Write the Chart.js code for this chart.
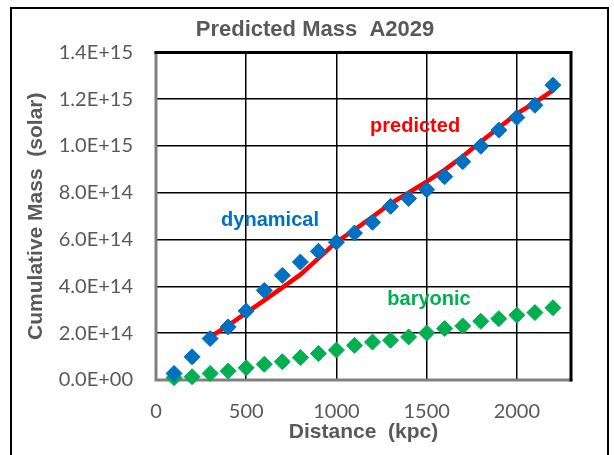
<!DOCTYPE html>
<html>
<head>
<meta charset="utf-8">
<script src="https://cdn.jsdelivr.net/npm/chart.js@4.4.1/dist/chart.umd.min.js"></script>
<style>
  html, body { margin: 0; padding: 0; background: #fff; }
</style>
</head>
<body>
<canvas id="chart" width="614" height="455"></canvas>
<script>
// distance (kpc) of the measured points
const distance = [100, 200, 300, 400, 500, 600, 700, 800, 900, 1000, 1100,
  1200, 1300, 1400, 1500, 1600, 1700, 1800, 1900, 2000, 2100, 2200];
// cumulative mass (solar)
const dynamical = [0.28e14, 0.99e14, 1.77e14, 2.27e14, 2.95e14, 3.83e14, 4.47e14, 5.04e14,
  5.50e14, 5.89e14, 6.28e14, 6.74e14, 7.42e14, 7.76e14, 8.13e14, 8.69e14, 9.33e14,
  9.99e14, 10.68e14, 11.22e14, 11.74e14, 12.60e14];
const baryonic = [0.10e14, 0.14e14, 0.28e14, 0.38e14, 0.52e14, 0.67e14, 0.78e14, 0.96e14,
  1.13e14, 1.28e14, 1.48e14, 1.62e14, 1.70e14, 1.84e14, 2.01e14, 2.20e14, 2.31e14,
  2.51e14, 2.62e14, 2.77e14, 2.88e14, 3.09e14];
// predicted curve
const predictedDistance = [300, 400, 500, 600, 700, 800, 900, 1000, 1100, 1200, 1300,
  1400, 1500, 1600, 1700, 1800, 1900, 2000, 2100, 2200];
const predicted = [1.83e14, 2.33e14, 2.87e14, 3.40e14, 3.95e14, 4.50e14, 5.20e14, 5.90e14,
  6.42e14, 6.97e14, 7.54e14, 8.00e14, 8.48e14, 8.98e14, 9.55e14, 10.18e14, 10.78e14,
  11.38e14, 11.85e14, 12.38e14];
// axis ticks
const xTickValues = [0, 500, 1000, 1500, 2000];
const yTickValues = [0, 2e14, 4e14, 6e14, 8e14, 10e14, 12e14, 14e14];

const GREY = '#595959';
const BLUE = '#0070C0';
const GREEN = '#00B050';
const RED = '#FF0000';

const toPoints = (xs, ys) => xs.map((x, i) => ({ x: x, y: ys[i] }));

const sciLabel = (v) => {
  if (v === 0) return '0.0E+00';
  const [m, e] = v.toExponential(1).split('e');
  const n = parseInt(e, 10);
  return m + 'E' + (n < 0 ? '-' : '+') + String(Math.abs(n)).padStart(2, '0');
};

// frame around the plot + outer chart border
const framePlugin = {
  id: 'frame',
  beforeDraw(chart) {
    const ctx = chart.ctx;
    ctx.save();
    ctx.fillStyle = '#fff';
    ctx.fillRect(0, 0, chart.width, chart.height);
    ctx.restore();
  },
  beforeDatasetsDraw(chart) {
    const { ctx, chartArea: a } = chart;
    ctx.save();
    ctx.lineCap = 'square';
    ctx.strokeStyle = '#808080';
    ctx.lineWidth = 3;
    ctx.beginPath();
    ctx.moveTo(a.left, a.top);
    ctx.lineTo(a.left, a.bottom);
    ctx.lineTo(a.right, a.bottom);
    ctx.stroke();
    ctx.strokeStyle = '#000';
    ctx.beginPath();
    ctx.moveTo(a.left, a.top);
    ctx.lineTo(a.right, a.top);
    ctx.lineTo(a.right, a.bottom);
    ctx.stroke();
    ctx.restore();
  },
  afterDraw(chart) {
    const ctx = chart.ctx;
    ctx.save();
    ctx.strokeStyle = '#000';
    ctx.lineWidth = 2;
    ctx.strokeRect(11, 8, 597, 460);
    ctx.restore();
  }
};

// in-plot series names
const seriesLabels = [
  { text: 'predicted', x: 1436, y: 10.84e14, color: RED },
  { text: 'dynamical', x: 632, y: 6.83e14, color: BLUE },
  { text: 'baryonic', x: 1513, y: 3.46e14, color: GREEN }
];
const labelPlugin = {
  id: 'seriesLabels',
  afterDatasetsDraw(chart) {
    const { ctx, scales } = chart;
    ctx.save();
    ctx.font = 'bold 20px "Liberation Sans", Arial, sans-serif';
    ctx.textAlign = 'center';
    ctx.textBaseline = 'middle';
    seriesLabels.forEach(l => {
      ctx.fillStyle = l.color;
      ctx.fillText(l.text, scales.x.getPixelForValue(l.x), scales.y.getPixelForValue(l.y));
    });
    ctx.restore();
  }
};

new Chart(document.getElementById('chart'), {
  type: 'scatter',
  data: {
    datasets: [
      {
        label: 'dynamical',
        data: toPoints(distance, dynamical),
        pointStyle: 'rectRot',
        pointRadius: 8,
        borderWidth: 1,
        backgroundColor: BLUE,
        borderColor: BLUE,
        clip: false,
        order: 0
      },
      {
        label: 'baryonic',
        data: toPoints(distance, baryonic),
        pointStyle: 'rectRot',
        pointRadius: 8,
        borderWidth: 1,
        backgroundColor: GREEN,
        borderColor: GREEN,
        clip: false,
        order: 1
      },
      {
        label: 'predicted',
        data: toPoints(predictedDistance, predicted),
        showLine: true,
        pointRadius: 0,
        borderColor: RED,
        borderWidth: 4.5,
        tension: 0,
        order: 2
      }
    ]
  },
  options: {
    responsive: false,
    animation: false,
    layout: { padding: { left: 16, right: 0, top: 0, bottom: 0 } },
    plugins: {
      legend: { display: false },
      tooltip: { enabled: false },
      title: {
        display: true,
        text: 'Predicted Mass  A2029',
        color: GREY,
        font: { family: '"Liberation Sans", Arial, sans-serif', size: 22, weight: 'bold' },
        padding: { top: 17, bottom: 9 }
      }
    },
    scales: {
      x: {
        type: 'linear',
        min: 0,
        max: 2300,
        border: { display: false },
        grid: { color: '#000', lineWidth: 1.5, drawTicks: false },
        ticks: {
          padding: 20,
          color: GREY,
          font: { family: 'Lato, "Open Sans", sans-serif', size: 20 },
          callback: (v) => String(v)
        },
        afterBuildTicks: (s) => { s.ticks = xTickValues.map(v => ({ value: v })); },
        title: {
          display: true,
          text: 'Distance  (kpc)',
          color: GREY,
          font: { family: '"Liberation Sans", Arial, sans-serif', size: 21, weight: 'bold' },
          padding: { top: 0, bottom: 10 }
        },
        afterFit: (s) => { s.height = 75; }
      },
      y: {
        min: 0,
        max: 1.4e15,
        border: { display: false },
        grid: { color: '#000', lineWidth: 1.5, drawTicks: false },
        ticks: {
          padding: 23,
          color: GREY,
          font: { family: 'Lato, "Open Sans", sans-serif', size: 20 },
          callback: (v) => sciLabel(v)
        },
        afterBuildTicks: (s) => { s.ticks = yTickValues.map(v => ({ value: v })); },
        title: {
          display: true,
          text: 'Cumulative Mass  (solar)',
          color: GREY,
          font: { family: '"Liberation Sans", Arial, sans-serif', size: 21, weight: 'bold' },
          padding: { top: 8, bottom: 0 }
        },
        afterFit: (s) => { s.width = 140; }
      },
      // empty right-hand strip so the title centres like the original
      spacer: {
        position: 'right',
        border: { display: false },
        grid: { display: false, drawTicks: false },
        ticks: { display: false },
        afterFit: (s) => { s.width = 43; }
      }
    }
  },
  plugins: [framePlugin, labelPlugin]
});
</script>
</body>
</html>
